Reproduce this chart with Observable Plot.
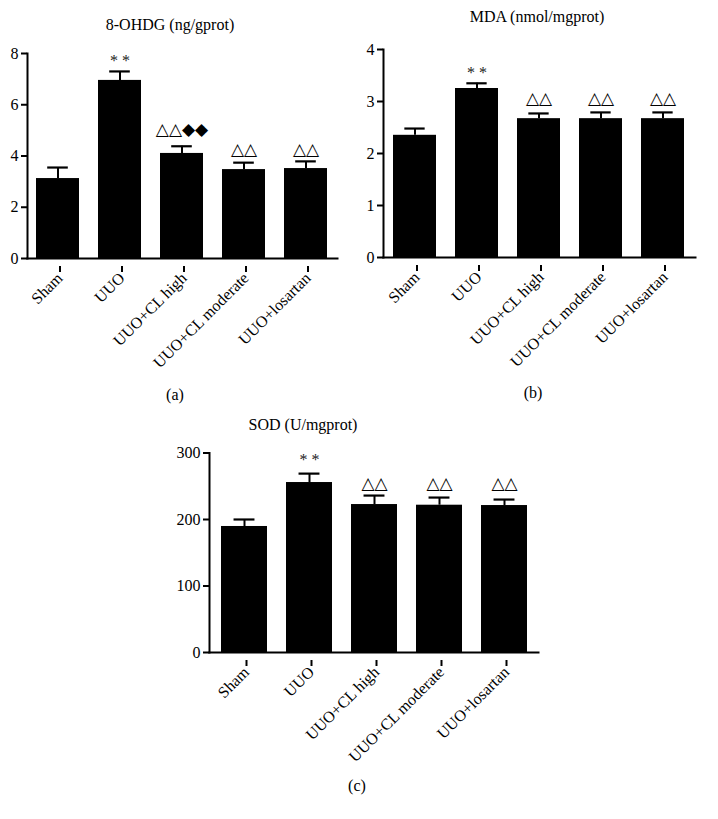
<!DOCTYPE html>
<html><head><meta charset="utf-8">
<script src="https://cdn.jsdelivr.net/npm/d3@7"></script>
<script src="https://cdn.jsdelivr.net/npm/@observablehq/plot@0.6"></script>
<style>
body{margin:0;background:#fff;}
#page{position:relative;width:718px;height:819px;font-family:"Liberation Serif",serif;color:#000;background:#fff;overflow:hidden;}
.lbl{position:absolute;transform:translate(-50%,-50%);font-size:16px;white-space:nowrap;}
.panel{position:absolute;}
</style></head><body><div id="page"></div>
<script>
const groups = ["Sham", "UUO", "UUO+CL high", "UUO+CL moderate", "UUO+losartan"];

// 8-OHDG (ng/gprot)
const ohdgMean = [3.12, 6.95, 4.10, 3.47, 3.51];
const ohdgSem = [0.43, 0.35, 0.28, 0.27, 0.28];
const ohdgMarks = ["", "* *", "△△◆◆", "△△", "△△"];
const ohdgMarkY = [null, 7.7, 4.96, 4.18, 4.18];
const ohdgTicks = [0, 2, 4, 6, 8];

// MDA (nmol/mgprot)
const mdaMean = [2.35, 3.25, 2.67, 2.67, 2.67];
const mdaSem = [0.13, 0.10, 0.10, 0.12, 0.12];
const mdaMarks = ["", "* *", "△△", "△△", "△△"];
const mdaMarkY = [null, 3.56, 3.02, 3.02, 3.02];
const mdaTicks = [0, 1, 2, 3, 4];

// SOD (U/mgprot)
const sodMean = [189.5, 255.6, 222.5, 221.5, 221.0];
const sodSem = [10.5, 13.4, 13.5, 11.5, 9.0];
const sodMarks = ["", "* *", "△△", "△△", "△△"];
const sodMarkY = [null, 290, 251, 251, 251];
const sodTicks = [0, 100, 200, 300];

const titles = ["8-OHDG (ng/gprot)", "MDA (nmol/mgprot)", "SOD (U/mgprot)"];
const panelTags = ["(a)", "(b)", "(c)"];

const page = document.getElementById("page");

function label(text, x, y, size) {
  const d = document.createElement("div");
  d.className = "lbl";
  d.textContent = text;
  d.style.left = x + "px";
  d.style.top = y + "px";
  if (size) d.style.fontSize = size + "px";
  page.appendChild(d);
}

function panel(cfg) {
  const data = groups.map((g, i) => ({
    g, v: cfg.mean[i], e: cfg.mean[i] + cfg.sem[i], mark: cfg.marks[i], my: cfg.markY[i]
  }));
  const innerW = cfg.width - cfg.ml - cfg.mr;
  const bw = innerW / 5 * 0.7;
  const capInset = (bw - 21) / 2;
  const stars = data.filter(d => d.mark && d.mark.includes("*"));
  const syms = data.filter(d => d.mark && !d.mark.includes("*"));
  const svg = Plot.plot({
    width: cfg.width,
    height: cfg.height,
    marginLeft: cfg.ml,
    marginRight: cfg.mr,
    marginTop: cfg.mt,
    marginBottom: cfg.mb,
    style: {fontFamily: "'Liberation Serif', serif", fontSize: "16px", color: "black", background: "transparent"},
    x: {domain: groups, paddingInner: 0.3, paddingOuter: 0.15, label: null},
    y: {domain: cfg.domain, label: null},
    marks: [
      Plot.ruleX(data, {x: "g", y1: "v", y2: "e", stroke: "black", strokeWidth: 2}),
      Plot.tickY(data, {x: "g", y: "e", stroke: "black", strokeWidth: 2.2, insetLeft: capInset, insetRight: capInset}),
      Plot.barY(data, {x: "g", y: "v", fill: "black"}),
      Plot.frame({anchor: "left", stroke: "black", strokeWidth: 2}),
      Plot.frame({anchor: "bottom", stroke: "black", strokeWidth: 2}),
      Plot.axisY({ticks: cfg.ticks, tickFormat: d3.format("d"), tickSize: 6, tickPadding: 3, strokeWidth: 2, label: null}),
      Plot.axisX({tickRotate: -45, tickSize: 6, tickPadding: 3, strokeWidth: 2, dx: 2, dy: 8, label: null}),
      Plot.text(stars, {x: "g", y: "my", text: "mark", fontSize: 16, lineAnchor: "middle", fill: "#222"}),
      Plot.text(syms, {x: "g", y: "my", text: "mark", fontSize: 17, fontFamily: "'DejaVu Sans'", lineAnchor: "middle", dy: -2, fill: "black"})
    ]
  });
  svg.classList.add("panel");
  svg.style.left = cfg.left + "px";
  svg.style.top = cfg.top + "px";
  page.appendChild(svg);
}

panel({mean: ohdgMean, sem: ohdgSem, marks: ohdgMarks, markY: ohdgMarkY, ticks: ohdgTicks, domain: [0, 8],
  left: 0, top: 38, width: 360, height: 345, ml: 27, mr: 23, mt: 15, mb: 125});
panel({mean: mdaMean, sem: mdaSem, marks: mdaMarks, markY: mdaMarkY, ticks: mdaTicks, domain: [0, 4],
  left: 345, top: 30, width: 373, height: 345, ml: 38, mr: 23, mt: 19, mb: 118});
panel({mean: sodMean, sem: sodSem, marks: sodMarks, markY: sodMarkY, ticks: sodTicks, domain: [0, 300],
  left: 160, top: 440, width: 400, height: 335, ml: 49, mr: 22, mt: 12.5, mb: 123});

label(titles[0], 170, 25);
label(titles[1], 537, 17);
label(titles[2], 303, 425);
label(panelTags[0], 175, 395);
label(panelTags[1], 533, 393);
label(panelTags[2], 357, 786);
</script>
</body></html>
